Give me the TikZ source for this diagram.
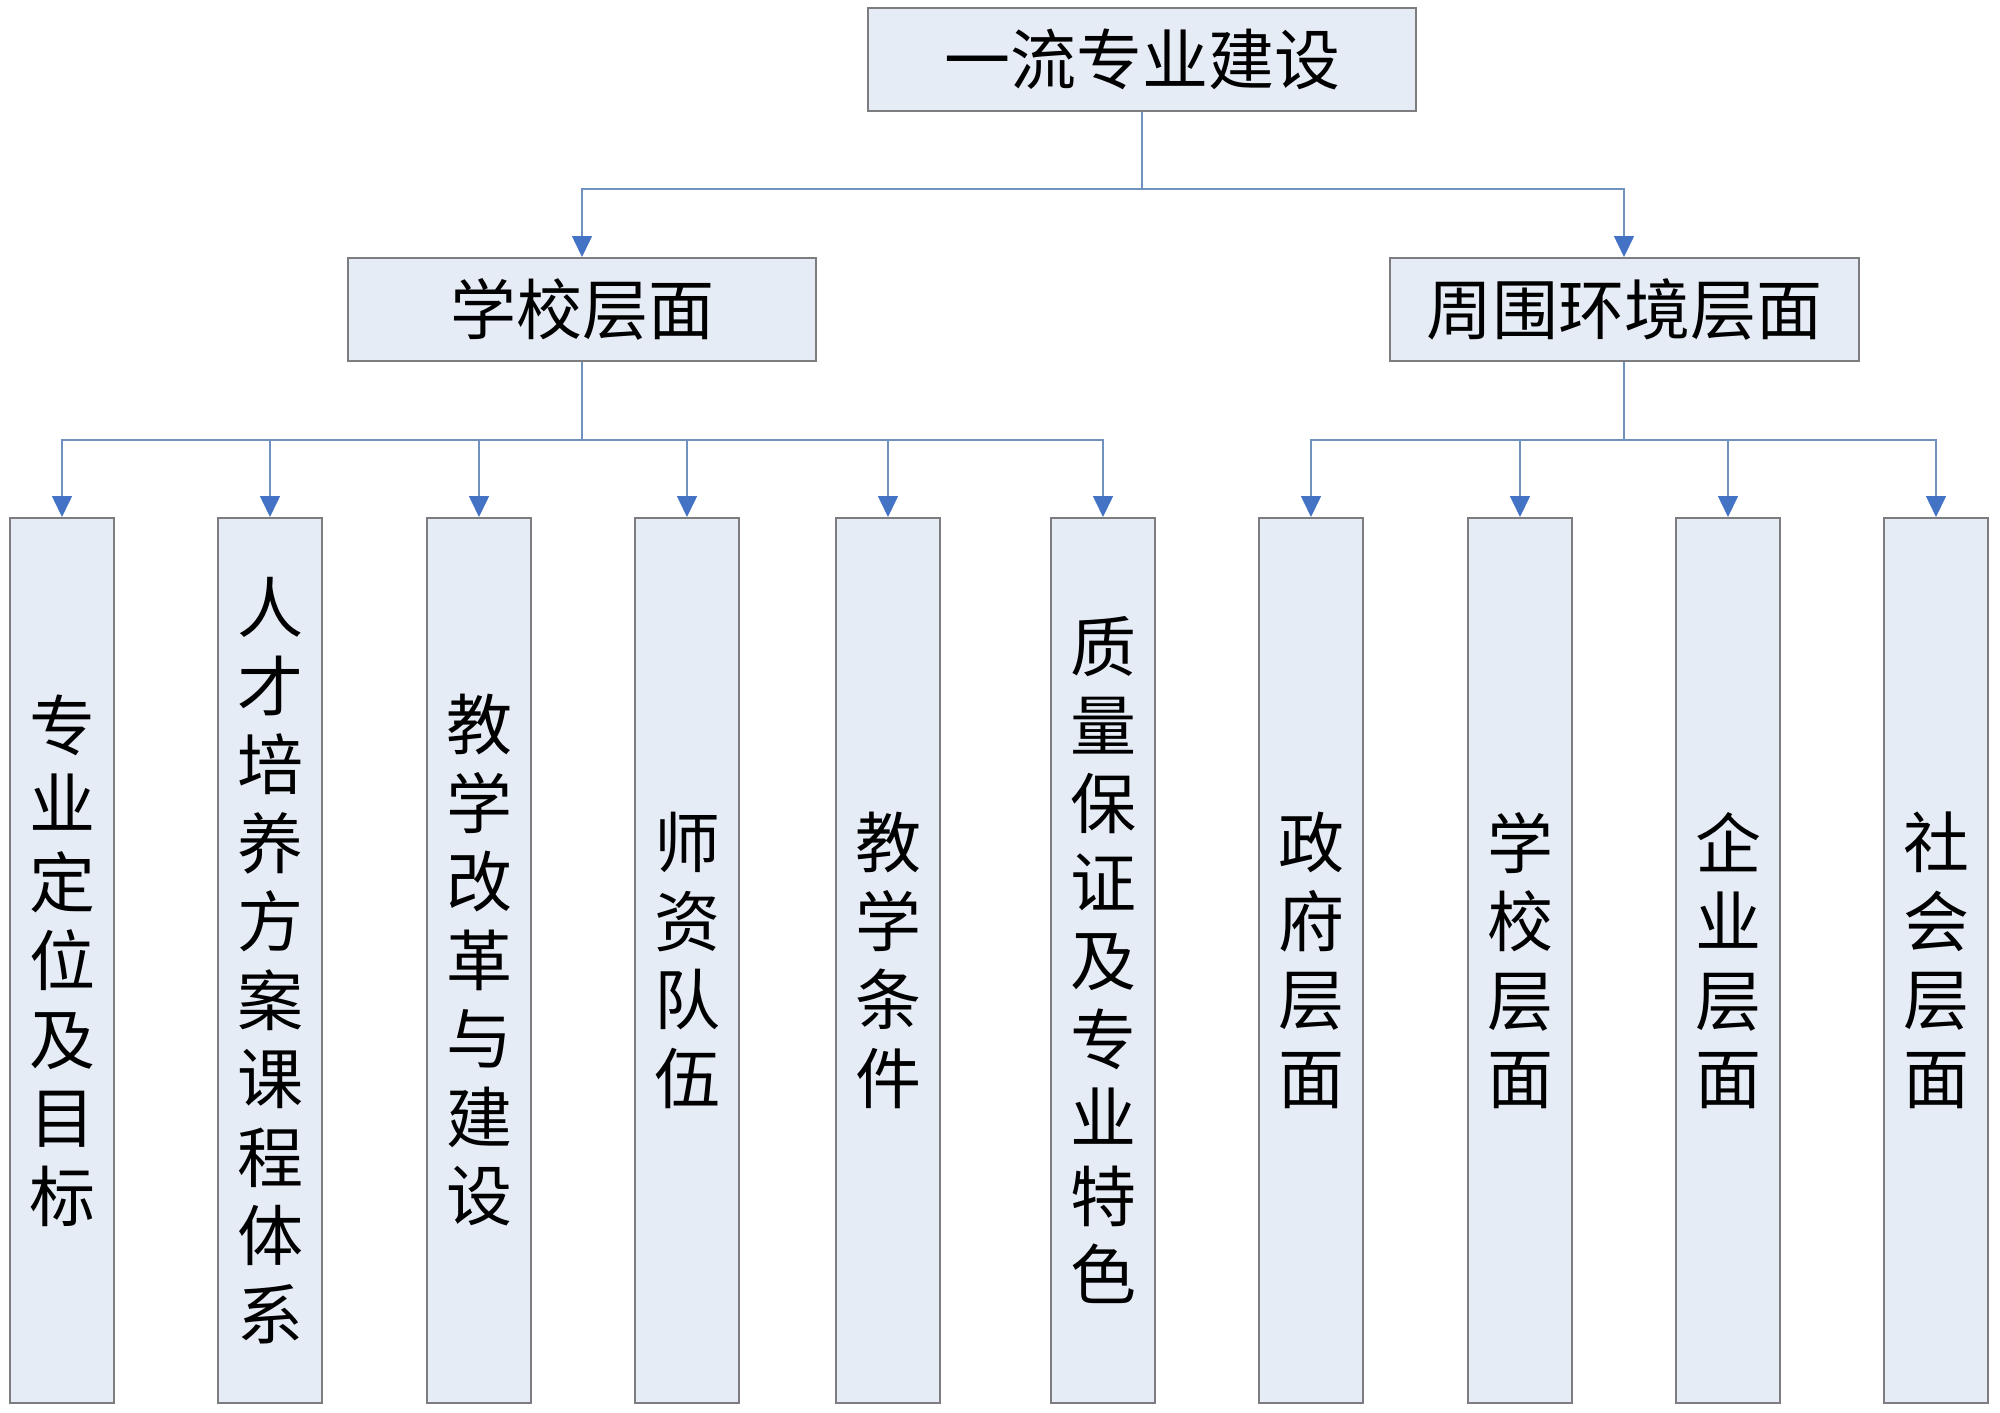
\documentclass[tikz,border=0pt]{standalone}
\usepackage{fontspec}
\newfontfamily\cjk{Noto Sans CJK SC}
\usetikzlibrary{arrows.meta}
\definecolor{boxfill}{RGB}{230,236,246}
\definecolor{boxline}{RGB}{125,125,128}
\definecolor{connline}{RGB}{112,146,190}
\definecolor{tipblue}{RGB}{68,114,196}
\tikzset{
  box/.style={draw=boxline, line width=2pt, fill=boxfill, inner sep=0pt, font=\cjk\fontsize{66}{78.5}\selectfont, align=center},
  hbox/.style={box, minimum height=103pt, font=\cjk\fontsize{66}{78}\selectfont},
  vbox/.style={box, minimum width=104pt, minimum height=885pt},
  conn/.style={draw=connline, line width=1.6pt, -{Triangle[length=21pt,width=20pt,fill=tipblue,color=tipblue]}}
}
\begin{document}
\begin{tikzpicture}[x=1pt,y=-1pt]
\useasboundingbox (0,0) rectangle (2000,1413);
\node[hbox, minimum width=548pt] (top) at (1142,59.5) {一流专业建设};
\node[hbox, minimum width=468pt] (school) at (582,309.5) {学校层面};
\node[hbox, minimum width=469pt] (env) at (1624,309.5) {周围环境层面};
\node[vbox] (b1) at (62,960.5) {专\\业\\定\\位\\及\\目\\标};
\node[vbox] (b2) at (270,960.5) {人\\才\\培\\养\\方\\案\\课\\程\\体\\系};
\node[vbox] (b3) at (479,960.5) {教\\学\\改\\革\\与\\建\\设};
\node[vbox] (b4) at (687,960.5) {师\\资\\队\\伍};
\node[vbox] (b5) at (888,960.5) {教\\学\\条\\件};
\node[vbox] (b6) at (1103,960.5) {质\\量\\保\\证\\及\\专\\业\\特\\色};
\node[vbox] (b7) at (1311,960.5) {政\\府\\层\\面};
\node[vbox] (b8) at (1520,960.5) {学\\校\\层\\面};
\node[vbox] (b9) at (1728,960.5) {企\\业\\层\\面};
\node[vbox] (b10) at (1936,960.5) {社\\会\\层\\面};
\coordinate (j0) at (1142,189);
\coordinate (j1) at (582,440);
\coordinate (j2) at (1624,440);
\foreach \t in {school,env}
  \draw[conn] (top.south) -- (j0) -| (\t.north);
\foreach \t in {b1,b2,b3,b4,b5,b6}
  \draw[conn] (school.south) -- (j1) -| (\t.north);
\foreach \t in {b7,b8,b9,b10}
  \draw[conn] (env.south) -- (j2) -| (\t.north);
\end{tikzpicture}
\end{document}
